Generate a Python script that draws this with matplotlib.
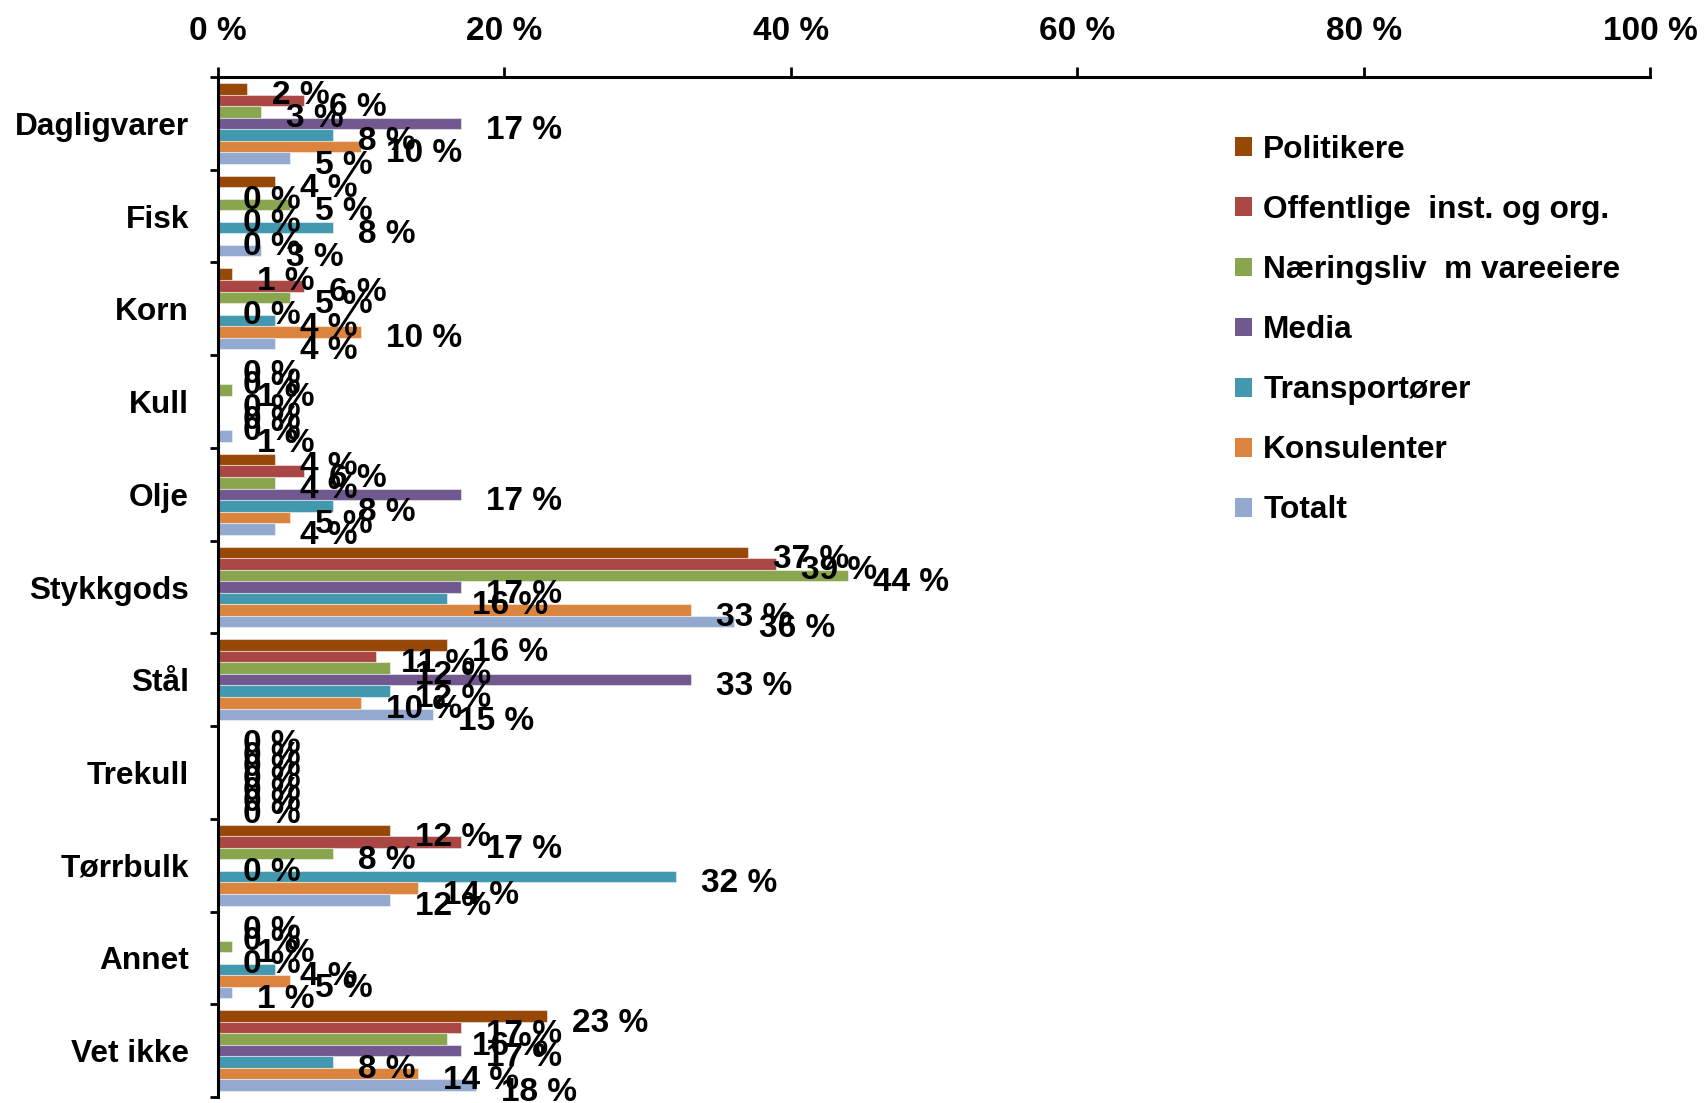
import matplotlib
matplotlib.use("Agg")
import matplotlib.pyplot as plt
import numpy as np

categories = ["Dagligvarer", "Fisk", "Korn", "Kull", "Olje", "Stykkgods",
              "Stål", "Trekull", "Tørrbulk", "Annet", "Vet ikke"]
series_names = ["Politikere", "Offentlige  inst. og org.", "Næringsliv  m vareeiere",
                "Media", "Transportører", "Konsulenter", "Totalt"]
politikere    = [2, 4, 1, 0, 4, 37, 16, 0, 12, 0, 23]
offentlige    = [6, 0, 6, 0, 6, 39, 11, 0, 17, 0, 17]
naeringsliv   = [3, 5, 5, 1, 4, 44, 12, 0, 8, 1, 16]
media         = [17, 0, 0, 0, 17, 17, 33, 0, 0, 0, 17]
transportorer = [8, 8, 4, 0, 8, 16, 12, 0, 32, 4, 8]
konsulenter   = [10, 0, 10, 0, 5, 33, 10, 0, 14, 5, 14]
totalt        = [5, 3, 4, 1, 4, 36, 15, 0, 12, 1, 18]
series_values = [politikere, offentlige, naeringsliv, media, transportorer, konsulenter, totalt]
colors = ["#974706", "#AA4643", "#89A54E", "#71588F", "#4198AF", "#DB843D", "#93A9CF"]
x_ticks = [0, 20, 40, 60, 80, 100]
x_tick_labels = ["0 %", "20 %", "40 %", "60 %", "80 %", "100 %"]

plt.rcParams['font.family'] = ['Liberation Sans', 'DejaVu Sans']
FS = 22.8
FS_NUM = 24

W, H = 1707, 1103
fig = plt.figure(figsize=(W / 100, H / 100), dpi=100)
left, right, top, bottom = 218, 1650, 77, 1097
ax = fig.add_axes([left / W, 1 - bottom / H, (right - left) / W, (bottom - top) / H])

n = len(series_values)
h = (1 - 12 / 92.73) / n
y = np.arange(len(categories))
for j, (name, vals, col) in enumerate(zip(series_names, series_values, colors)):
    pos = y + (j - (n - 1) / 2) * h
    bars = ax.barh(pos, vals, height=h, color=col, label=name,
                   edgecolor=(1, 1, 1, 0.45), linewidth=0.8)
    for b, v in zip(bars, vals):
        ax.annotate(f"{v} %", xy=(b.get_width(), b.get_y() + b.get_height() / 2),
                    xytext=(18, -11.2), textcoords="offset points",
                    ha="left", va="baseline", fontsize=FS_NUM, fontweight="bold",
                    color="black", annotation_clip=False)

ax.set_xlim(0, 100)
ax.set_ylim(len(categories) - 0.5, -0.5)

ax.xaxis.tick_top()
ax.set_xticks(x_ticks)
ax.set_xticklabels(x_tick_labels, fontsize=FS_NUM, fontweight="bold")
ax.tick_params(axis="x", which="major", direction="out", length=7.2, width=2.0,
               pad=14.2, colors="black")

ax.set_yticks(y)
ax.set_yticklabels(categories, fontsize=FS, fontweight="bold")
ax.tick_params(axis="y", which="major", length=0, pad=21)
ax.set_yticks(np.arange(-0.5, len(categories), 1.0), minor=True)
ax.tick_params(axis="y", which="minor", direction="out", length=5.8, width=2.0)

for s in ["right", "bottom"]:
    ax.spines[s].set_visible(False)
for s in ["top", "left"]:
    ax.spines[s].set_linewidth(2.2)
    ax.spines[s].set_color("black")

leg = ax.legend(loc="upper left", bbox_to_anchor=(1235 / W, 1 - 135 / H),
                bbox_transform=fig.transFigure, frameon=False,
                prop={"size": FS, "weight": "bold"},
                handlelength=0.54, handleheight=0.54, handletextpad=0.35,
                labelspacing=0.95, borderpad=0, borderaxespad=0)
for p in leg.get_patches():
    p.set_edgecolor("none")

fig.savefig("out.png", dpi=100)
